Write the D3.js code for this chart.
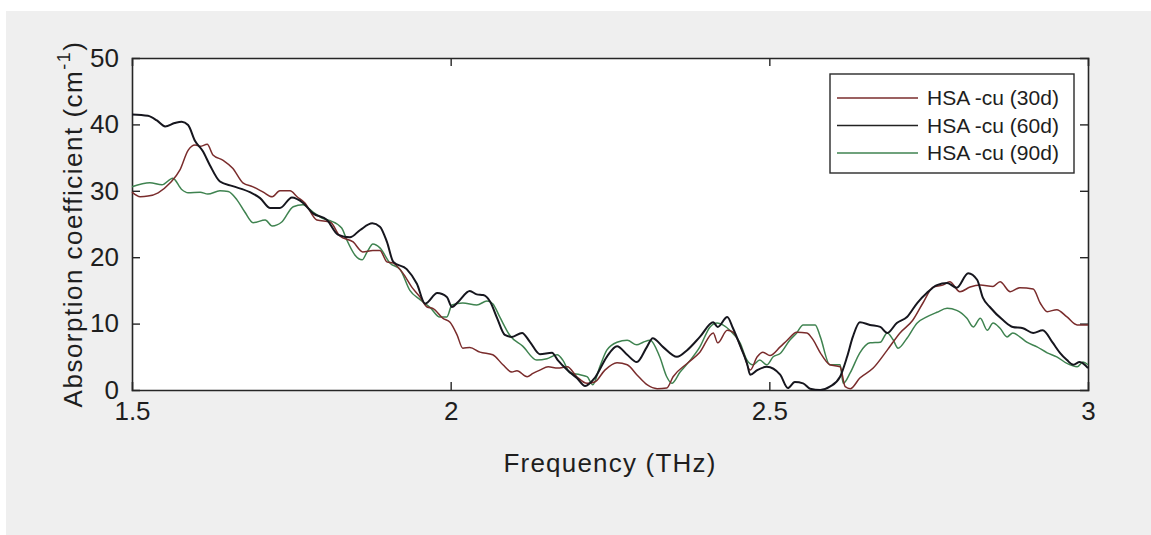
<!DOCTYPE html>
<html>
<head>
<meta charset="utf-8">
<script src="https://cdn.jsdelivr.net/npm/d3@7"></script>
<style>
  html, body { margin: 0; padding: 0; background: #fff; }
  svg { display: block; font-family: "Liberation Sans", Arial, sans-serif; }
</style>
</head>
<body>
<svg id="chart"></svg>
<script>
// series (frequency in THz, absorption in cm^-1)
const freq30 = [1.500,1.513,1.525,1.541,1.560,1.575,1.588,1.599,1.607,1.618,1.627,1.643,1.658,1.674,1.690,1.706,1.720,1.732,1.748,1.759,
  1.771,1.790,1.811,1.826,1.847,1.862,1.878,1.889,1.900,1.910,1.925,1.939,1.952,1.963,1.972,1.988,1.999,2.010,2.019,2.030,
  2.046,2.066,2.082,2.096,2.104,2.120,2.129,2.140,2.153,2.168,2.183,2.198,2.214,2.226,2.242,2.261,2.277,2.292,2.308,2.324,
  2.339,2.349,2.371,2.391,2.412,2.419,2.434,2.443,2.459,2.470,2.481,2.490,2.501,2.517,2.528,2.543,2.559,2.569,2.580,2.595,
  2.611,2.619,2.627,2.642,2.663,2.685,2.705,2.725,2.741,2.757,2.772,2.783,2.799,2.815,2.831,2.851,2.862,2.878,2.893,2.914,
  2.925,2.936,2.951,2.967,2.983,3.000]
const abs30 = [29.8,29.1,29.2,29.7,31.2,33.1,36.1,36.9,36.7,37.0,35.4,34.6,33.4,31.2,30.6,29.8,29.1,30.0,30.0,29.1,
  28.2,25.6,25.3,23.2,22.3,20.8,21.0,21.0,19.3,19.1,17.6,15.5,14.0,12.5,12.3,10.8,10.2,8.3,6.3,6.4,
  5.7,5.3,3.8,2.7,2.9,2.0,2.5,3.0,3.5,3.3,3.5,2.0,1.0,1.2,3.0,4.1,3.8,2.3,0.8,0.2,
  0.3,2.0,4.0,5.7,8.6,7.1,9.0,8.7,5.6,3.0,5.0,5.7,5.2,6.5,7.5,8.7,8.6,7.5,5.6,3.8,
  3.5,0.5,0.2,1.8,3.3,6.0,8.6,10.5,13.1,15.5,15.8,16.3,14.8,15.5,15.8,15.6,16.3,14.8,15.4,15.2,
  13.1,11.8,12.1,11.0,9.8,9.8]

const freq60 = [1.500,1.525,1.539,1.552,1.567,1.578,1.588,1.599,1.611,1.622,1.638,1.658,1.685,1.701,1.717,1.732,1.751,1.768,1.784,1.806,
  1.823,1.842,1.858,1.877,1.889,1.900,1.910,1.931,1.947,1.960,1.979,1.994,2.002,2.012,2.030,2.041,2.051,2.062,2.073,2.085,
  2.096,2.112,2.124,2.140,2.159,2.168,2.183,2.198,2.211,2.226,2.245,2.261,2.277,2.292,2.308,2.317,2.333,2.355,2.371,2.391,
  2.412,2.419,2.434,2.443,2.457,2.465,2.470,2.481,2.496,2.517,2.529,2.540,2.553,2.564,2.580,2.595,2.611,2.622,2.631,2.642,
  2.658,2.674,2.685,2.700,2.716,2.732,2.747,2.763,2.779,2.794,2.812,2.826,2.835,2.846,2.867,2.882,2.898,2.914,2.929,2.944,
  2.956,2.967,2.977,2.987,3.000]
const abs60 = [41.5,41.3,40.6,39.7,40.2,40.4,39.9,37.5,36.0,33.9,31.4,30.7,29.8,28.9,27.4,27.4,29.0,28.2,26.6,25.6,
  23.4,23.0,24.1,25.1,24.6,22.3,19.3,18.2,16.0,13.0,14.6,14.0,12.5,13.3,14.9,14.4,14.3,13.3,10.8,8.3,
  8.0,8.6,7.3,5.4,5.6,4.5,3.0,1.8,0.6,1.8,5.0,6.6,5.3,4.2,6.5,7.8,6.5,5.0,6.0,8.0,
  10.2,9.5,11.0,9.3,6.0,4.0,2.3,3.0,3.5,2.3,0.3,1.2,1.0,0.2,0.0,0.5,2.0,5.0,8.0,10.2,
  9.8,9.5,8.6,10.1,11.0,13.1,14.6,15.8,16.1,15.4,17.6,16.6,13.9,12.5,10.5,9.5,9.3,8.6,9.0,7.2,
  5.6,4.5,3.8,4.2,3.3]

const freq90 = [1.500,1.528,1.547,1.564,1.578,1.588,1.607,1.619,1.638,1.651,1.665,1.677,1.690,1.709,1.720,1.735,1.753,1.768,1.784,1.798,
  1.811,1.829,1.837,1.850,1.861,1.869,1.878,1.889,1.905,1.921,1.936,1.952,1.968,1.983,1.994,2.002,2.019,2.041,2.057,2.066,
  2.077,2.093,2.113,2.135,2.151,2.167,2.176,2.187,2.203,2.214,2.223,2.234,2.245,2.261,2.277,2.292,2.302,2.313,2.328,2.339,
  2.347,2.360,2.376,2.391,2.407,2.418,2.427,2.438,2.454,2.465,2.474,2.485,2.496,2.506,2.517,2.532,2.543,2.553,2.572,2.580,
  2.595,2.611,2.616,2.627,2.642,2.658,2.674,2.685,2.694,2.702,2.716,2.732,2.747,2.763,2.779,2.794,2.810,2.820,2.831,2.842,
  2.851,2.862,2.873,2.882,2.893,2.904,2.920,2.936,2.951,2.967,2.983,2.992,3.000]
const abs90 = [30.6,31.2,30.9,31.9,30.2,29.7,29.8,29.5,30.0,29.9,28.6,26.8,25.2,25.6,24.7,25.3,27.6,27.9,26.8,25.9,
  25.5,24.4,22.6,20.3,19.6,20.8,22.0,21.4,19.1,18.1,15.0,13.6,12.4,11.0,11.0,12.8,13.1,12.8,13.4,13.0,
  11.0,8.2,6.6,4.5,4.7,5.3,4.5,2.6,2.3,2.0,0.8,3.5,6.0,7.2,7.5,6.8,7.2,7.5,5.0,2.0,
  1.0,2.7,4.5,6.5,9.5,10.1,9.8,9.0,7.1,4.5,3.8,4.5,3.8,5.0,5.5,7.5,8.6,9.8,9.8,8.0,
  3.8,3.8,1.0,2.6,5.6,7.1,7.2,8.6,7.6,6.3,7.8,10.1,11.0,11.7,12.3,12.0,10.8,9.5,10.8,9.0,
  10.1,9.3,8.0,8.6,8.0,7.2,6.5,5.6,5.0,4.0,3.5,4.2,3.8]

const seriesNames = ["HSA -cu (30d)", "HSA -cu (60d)", "HSA -cu (90d)"]
const seriesColors = ["#7a2c2c", "#16161e", "#3f8350"]
const seriesWidths = [1.5, 2, 1.5]
const xTicks = [1.5, 2, 2.5, 3]
const yTicks = [0, 10, 20, 30, 40, 50]

const W = 1151, H = 535
const plot = {left: 132, top: 58, right: 1088, bottom: 390}

const svg = d3.select('#chart').attr('width', W).attr('height', H)

// gray figure background, white strip top/left like the screenshot
svg.append('rect').attr('x', 6).attr('y', 11).attr('width', W - 6).attr('height', H - 11).attr('fill', '#efefef')
svg.append('rect')
  .attr('x', plot.left).attr('y', plot.top)
  .attr('width', plot.right - plot.left).attr('height', plot.bottom - plot.top)
  .attr('fill', '#fff')

const x = d3.scaleLinear().domain([1.5, 3]).range([plot.left, plot.right])
const y = d3.scaleLinear().domain([0, 50]).range([plot.bottom, plot.top])

const tickLen = 8

// axes (MATLAB style: inward ticks, box on)
const xAxis = svg.append('g').attr('transform', `translate(0,${plot.bottom})`)
  .call(d3.axisBottom(x).tickValues(xTicks).tickSize(-tickLen).tickPadding(12).tickFormat(d3.format('')))
const xTop = svg.append('g').attr('transform', `translate(0,${plot.top})`)
  .call(d3.axisTop(x).tickValues(xTicks).tickSize(-tickLen).tickFormat(''))
const yAxis = svg.append('g').attr('transform', `translate(${plot.left},0)`)
  .call(d3.axisLeft(y).tickValues(yTicks).tickSize(-tickLen).tickPadding(13))
const yRight = svg.append('g').attr('transform', `translate(${plot.right},0)`)
  .call(d3.axisRight(y).tickValues(yTicks).tickSize(-tickLen).tickFormat(''))

;[xAxis, xTop, yAxis, yRight].forEach(g => {
  g.select('.domain').attr('stroke', '#262626').attr('stroke-width', 1.6)
  g.selectAll('.tick line').attr('stroke', '#262626').attr('stroke-width', 1.4)
  g.selectAll('.tick text').attr('fill', '#1e1e1e').style('font-size', '26px')
})
// drop the end ticks that sit on the box edges
xAxis.selectAll('.tick line').filter(d => d === 1.5 || d === 3).remove()
xTop.selectAll('.tick line').filter(d => d === 1.5 || d === 3).remove()
yAxis.selectAll('.tick line').filter(d => d === 0 || d === 50).remove()
yRight.selectAll('.tick line').filter(d => d === 0 || d === 50).remove()
xAxis.selectAll('.tick text').attr('dy', '0.71em')

// data lines
const allSeries = [
  {f: freq30, v: abs30},
  {f: freq60, v: abs60},
  {f: freq90, v: abs90}
]
const line = d3.line().x(d => x(d[0])).y(d => y(d[1])).curve(d3.curveMonotoneX)

const lines = svg.append('g')
// green and red under, black on top
;[2, 0, 1].forEach(i => {
  const s = allSeries[i]
  lines.append('path')
    .datum(d3.zip(s.f, s.v))
    .attr('fill', 'none')
    .attr('stroke', seriesColors[i])
    .attr('stroke-width', seriesWidths[i])
    .attr('stroke-linejoin', 'round')
    .attr('d', line)
})

// axis labels
svg.append('text')
  .attr('x', (plot.left + plot.right) / 2).attr('y', 472)
  .attr('text-anchor', 'middle')
  .style('font-size', '26px').style('letter-spacing', '1.2px')
  .attr('fill', '#1e1e1e')
  .text('Frequency (THz)')

const yl = svg.append('text')
  .attr('transform', `translate(82,${(plot.top + plot.bottom) / 2}) rotate(-90)`)
  .attr('text-anchor', 'middle')
  .style('font-size', '26px').style('letter-spacing', '1.5px')
  .attr('fill', '#1e1e1e')
yl.append('tspan').text('Absorption coefficient (cm')
yl.append('tspan').attr('dy', -12).style('font-size', '18px').text('-1')
yl.append('tspan').attr('dy', 12).text(')')

// legend
const leg = svg.append('g').attr('transform', 'translate(830,74)')
leg.append('rect').attr('width', 244).attr('height', 99)
  .attr('fill', '#fff').attr('stroke', '#2a2a2a').attr('stroke-width', 1.4)
seriesNames.forEach((name, i) => {
  const cy = 24 + i * 27.5
  leg.append('line').attr('x1', 7).attr('x2', 88).attr('y1', cy).attr('y2', cy)
    .attr('stroke', i === 1 ? '#222' : seriesColors[i]).attr('stroke-width', 1.5)
  leg.append('text').attr('x', 97).attr('y', cy).attr('dy', '0.35em')
    .style('font-size', '21px').attr('fill', '#1e1e1e')
    .text(name)
})
</script>
</body>
</html>
